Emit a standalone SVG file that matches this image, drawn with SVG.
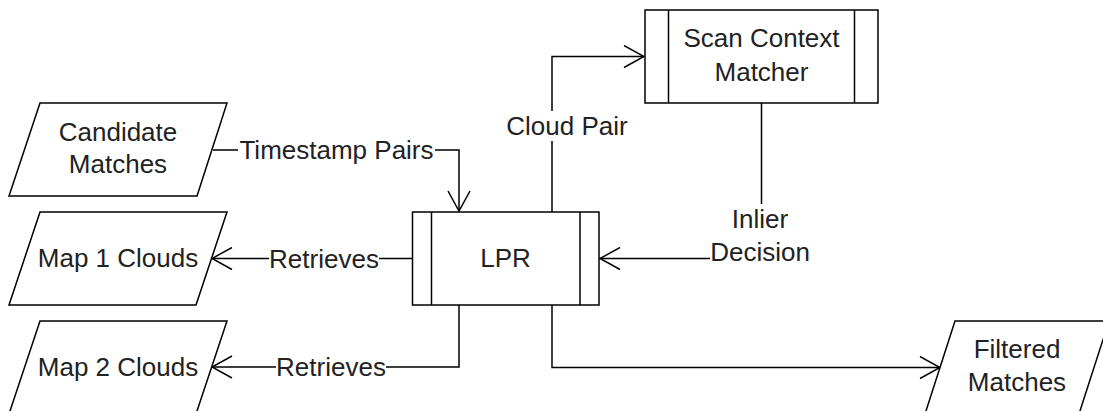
<svg xmlns="http://www.w3.org/2000/svg" width="1103" height="411" viewBox="0 0 1103 411">
<defs>
<style>
.shape{fill:#fff;stroke:#000;stroke-width:1.5}
.edge{fill:none;stroke:#000;stroke-width:1.5}
.t{font-family:"Liberation Sans",Arial,sans-serif;font-size:26px;fill:#222;text-anchor:middle}
.bg{fill:#fff}
</style>
<marker id="arr" viewBox="0 0 22 24" refX="21" refY="12" markerWidth="22" markerHeight="24" markerUnits="userSpaceOnUse" orient="auto">
<path d="M1,1 L21,12 L1,23" fill="none" stroke="#000" stroke-width="1.5"/>
</marker>
</defs>
<rect width="1103" height="411" fill="#fff"/>
<g id="connectors">
<path class="edge" d="M213,150 H459 V211" marker-end="url(#arr)"/>
<path class="edge" d="M412.5,258.5 H212" marker-end="url(#arr)"/>
<path class="edge" d="M459,305 V367 H212" marker-end="url(#arr)"/>
<path class="edge" d="M552,212 V56.5 H644" marker-end="url(#arr)"/>
<path class="edge" d="M761.5,103 V258.5 H600" marker-end="url(#arr)"/>
<path class="edge" d="M552,305 V367.5 H940" marker-end="url(#arr)"/>
<rect class="bg" x="238" y="136" width="197" height="28"/>
<text class="t" x="336.5" y="159">Timestamp Pairs</text>
<rect class="bg" x="269" y="245" width="110" height="28"/>
<text class="t" x="324" y="268">Retrieves</text>
<rect class="bg" x="276" y="353" width="110" height="28"/>
<text class="t" x="331" y="376">Retrieves</text>
<rect class="bg" x="506" y="111" width="122" height="30"/>
<text class="t" x="567" y="135">Cloud Pair</text>
<rect class="bg" x="710" y="204" width="100" height="62"/>
<text class="t" x="760" y="228">Inlier</text>
<text class="t" x="760" y="261">Decision</text>
</g>
<g id="candidate-matches">
<polygon class="shape" points="40,103 227,103 197,196 9,196"/>
<text class="t" x="118" y="141">Candidate</text>
<text class="t" x="118" y="173">Matches</text>
</g>
<g id="map1-clouds">
<polygon class="shape" points="40,212 227,212 196,305 9,305"/>
<text class="t" x="118" y="267">Map 1 Clouds</text>
</g>
<g id="map2-clouds">
<polygon class="shape" points="40,321 227,321 196,414 9,414"/>
<text class="t" x="118" y="376">Map 2 Clouds</text>
</g>
<g id="lpr">
<rect class="shape" x="412.5" y="212" width="186.5" height="93"/>
<line class="edge" x1="431.5" y1="212" x2="431.5" y2="305"/>
<line class="edge" x1="580" y1="212" x2="580" y2="305"/>
<text class="t" x="505.5" y="267">LPR</text>
</g>
<g id="scan-context-matcher">
<rect class="shape" x="645" y="10" width="233" height="93"/>
<line class="edge" x1="668.5" y1="10" x2="668.5" y2="103"/>
<line class="edge" x1="854.5" y1="10" x2="854.5" y2="103"/>
<text class="t" x="761.5" y="47">Scan Context</text>
<text class="t" x="761.5" y="81">Matcher</text>
</g>
<g id="filtered-matches">
<polygon class="shape" points="955,321 1109,321 1079,414 925,414"/>
<text class="t" x="1017" y="358">Filtered</text>
<text class="t" x="1017" y="391">Matches</text>
</g>
</svg>
